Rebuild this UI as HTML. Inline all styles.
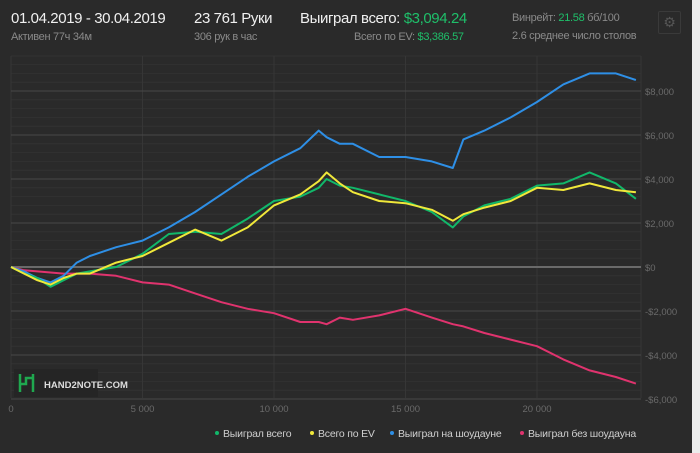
<!DOCTYPE html>
<html><head><meta charset="utf-8"><style>
body{margin:0;width:700px;height:453px;background:#ececec;overflow:hidden;font-family:"Liberation Sans","DejaVu Sans",sans-serif}
#panel{position:absolute;left:0;top:0;width:692px;height:453px;background:#2a2a2a}
.t{position:absolute;white-space:nowrap}
.big{font-size:15px;letter-spacing:-0.4px}
.sm{font-size:11px;letter-spacing:-0.3px}
</style></head><body>
<div id="panel">
<div class="t big" style="left:11px;top:10px;color:#f0f0f0">01.04.2019 - 30.04.2019</div>
<div class="t sm" style="left:11px;top:31px;color:#8a8a8a">Активен 77ч 34м</div>
<div class="t big" style="left:194px;top:10px;color:#f0f0f0">23 761 Руки</div>
<div class="t sm" style="left:194px;top:31px;color:#8a8a8a">306 рук в час</div>
<div class="t big" style="left:300px;top:10px;color:#f0f0f0">Выиграл всего: <span style="color:#1fbf6a">$3,094.24</span></div>
<div class="t sm" style="left:354px;top:31px;color:#8a8a8a">Всего по EV: <span style="color:#1fbf6a">$3,386.57</span></div>
<div class="t sm" style="left:512px;top:12px;color:#8a8a8a">Винрейт: <span style="color:#1fbf6a">21.58</span> бб/100</div>
<div class="t sm" style="left:512px;top:30px;color:#8a8a8a">2.6 среднее число столов</div>
<div class="t" style="left:658px;top:11px;width:21px;height:21px;border:1px solid #3a3a3a;border-radius:2px;color:#555;font-size:14px;text-align:center;line-height:21px">⚙</div>
<svg id="chart" width="692" height="453" style="position:absolute;left:0;top:0"></svg>
</div>
<script>
const hands=[0,500,1000,1500,2000,2500,3000,4000,5000,6000,7000,8000,9000,10000,11000,11700,12000,12500,13000,14000,15000,16000,16800,17200,18000,19000,20000,21000,22000,23000,23761];
const totalWon=[0,-300,-500,-900,-600,-300,-200,0,600,1500,1600,1500,2200,3000,3200,3600,4000,3700,3600,3300,3000,2500,1800,2300,2800,3100,3700,3800,4300,3800,3100];
const totalEV=[0,-300,-600,-800,-500,-300,-300,200,500,1100,1700,1200,1800,2800,3300,3900,4300,3800,3400,3000,2900,2600,2100,2400,2700,3000,3600,3500,3800,3500,3400];
const showdown=[0,-200,-500,-700,-400,200,500,900,1200,1800,2500,3300,4100,4800,5400,6200,5900,5600,5600,5000,5000,4800,4500,5800,6200,6800,7500,8300,8800,8800,8500];
const nonShowdown=[0,-150,-200,-250,-300,-300,-300,-400,-700,-800,-1200,-1600,-1900,-2100,-2500,-2500,-2600,-2300,-2400,-2200,-1900,-2300,-2600,-2700,-3000,-3300,-3600,-4200,-4700,-5000,-5300];
const xTicks=[0,5000,10000,15000,20000];
const xTickLabels=["0","5 000","10 000","15 000","20 000"];
const yTicks=[8000,6000,4000,2000,0,-2000,-4000,-6000];
const yTickLabels=["$8,000","$6,000","$4,000","$2,000","$0","-$2,000","-$4,000","-$6,000"];
const L=11,R=641,T=56,B=398;
const xs=v=>L+v*(26.3/1000);
const ys=v=>267-v*0.022;
const svg=document.getElementById('chart');
const NS='http://www.w3.org/2000/svg';
function mk(t,a){const e=document.createElementNS(NS,t);for(const k in a)e.setAttribute(k,a[k]);svg.appendChild(e);return e;}
for(let v=-6000;v<=9200;v+=400){if(v%2000===0)continue;const y=ys(v);if(y<T)continue;
const g=mk('line',{x1:L,x2:R,y1:y,y2:y,stroke:'#323232','stroke-width':1});

}
mk('line',{x1:L,x2:R,y1:T,y2:T,stroke:'#333'});
xTicks.forEach((v,i)=>{const x=xs(v);
const g=mk('line',{x1:x,x2:x,y1:T,y2:B,stroke:'#363636'});


const t=mk('text',{x:x,y:412,fill:'#6a6a6a','font-size':9.5,'text-anchor':'middle'});t.textContent=xTickLabels[i];

});
mk('line',{x1:R,x2:R,y1:T,y2:B,stroke:'#363636'});
yTicks.forEach((v,i)=>{const y=ys(v);
const g=mk('line',{x1:L,x2:R,y1:y,y2:y,stroke:v===0?'#6a6a6a':'#484848','stroke-width':v===0?2:1});


const t=mk('text',{x:645,y:y+4,fill:'#6a6a6a','font-size':9.5});t.textContent=yTickLabels[i];

});
const lg=mk('rect',{x:14,y:369,width:84,height:28,fill:'#252525'});


const lp=mk('path',{d:'M20 374v18 M33 374v18 M20 384h6v-6h7',stroke:'#1fa84f','stroke-width':2.5,fill:'none'});


const lt=mk('text',{x:44,y:388,fill:'#ddd','font-size':9.5,'font-weight':'bold'});lt.textContent='HAND2NOTE.COM';


const series=[[nonShowdown,'#e0336e','line-non-showdown'],[showdown,'#2e8fe6','line-showdown'],[totalWon,'#11b86a','line-total-won'],[totalEV,'#f0e83a','line-total-ev']];
series.forEach(([d,c,n])=>{const p=mk('polyline',{points:d.map((v,i)=>xs(hands[i]).toFixed(1)+','+ys(v).toFixed(1)).join(' '),fill:'none',stroke:c,'stroke-width':2,'stroke-linejoin':'round'});

});
const leg=[['Выиграл всего','#11b86a',217],['Всего по EV','#f0e83a',312],['Выиграл на шоудауне','#2e8fe6',392],['Выиграл без шоудауна','#e0336e',522]];
leg.forEach(([t,c,x])=>{const ci=mk('circle',{cx:x,cy:433,r:2,fill:c});


const tx=mk('text',{x:x+6,y:437,fill:'#cfcfcf','font-size':10.5,'letter-spacing':-0.2});tx.textContent=t;

});
</script>
</body></html>
